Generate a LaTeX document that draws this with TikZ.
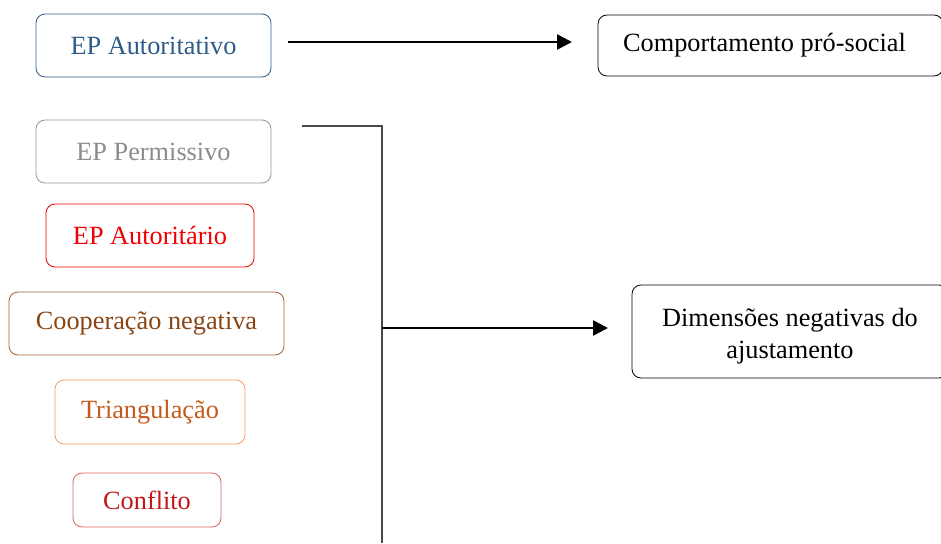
\documentclass[tikz,border=0pt]{standalone}
\usepackage{fontspec}
\setmainfont{Liberation Serif}
\usetikzlibrary{arrows.meta}
\definecolor{cBlue}{HTML}{2F5B88}
\definecolor{cGray}{HTML}{8C8C8C}
\definecolor{cRed}{HTML}{F00000}
\definecolor{cBrown}{HTML}{8A4513}
\definecolor{cBrownLine}{HTML}{A0603A}
\definecolor{cOrange}{HTML}{C4591A}
\definecolor{cOrangeLine}{HTML}{F4A060}
\definecolor{cDarkRed}{HTML}{C01818}
\definecolor{cDarkRedLine}{HTML}{DC6060}
\definecolor{cLink}{HTML}{4A4A4A}
\begin{document}
\begin{tikzpicture}[x=1pt,y=-1pt,
  box/.style={draw, rounded corners=9pt, line width=0.8pt, inner sep=0pt,
    align=center, font=\fontsize{26.3}{32}\selectfont},
  txt/.style={inner sep=0pt, align=center, font=\fontsize{26.3}{32}\selectfont},
  link/.style={draw=cLink, line width=1.3pt},
  flow/.style={draw=black, line width=2.6pt, -{Triangle[length=15pt,width=15pt]}}]
\useasboundingbox (0,0) rectangle (941,543);

% factor boxes on the left
\node[box, draw=cBlue, text=cBlue, minimum width=235pt, minimum height=63pt] (auth) at (153.5,45.5) {EP Autoritativo};
\node[box, draw=cGray!90, text=cGray, minimum width=235pt, minimum height=63pt] (perm) at (153.5,151.5) {EP Permissivo};
\node[box, draw=cRed, text=cRed, minimum width=208pt, minimum height=63pt] (autr) at (150,235.5) {EP Autoritário};
\node[box, draw=cBrownLine, text=cBrown, minimum width=275pt, minimum height=63pt] (coop) at (146.5,323.5) {Cooperação negativa};
\node[box, draw=cOrangeLine, text=cOrange, minimum width=190pt, minimum height=64pt] (tri) at (150,412) {Triangulação};
\node[box, draw=cDarkRedLine, text=cDarkRed, minimum width=148pt, minimum height=54pt] (conf) at (147,500) {Conflito};

% outcome boxes on the right
\node[box, draw=black, minimum width=345pt, minimum height=61pt] (pro) at (770.5,45.5) {Comportamento pró-social\hspace*{12pt}};
\node[box, draw=black, minimum width=316pt, minimum height=93pt] (neg) at (790,331.5) {};
\node[txt] (negtxt) at ([yshift=-5pt]neg.center) {Dimensões negativas do\\ajustamento};

% bracket grouping the negative factors
\coordinate (bt) at (302,126);
\coordinate (bc) at (382,126);
\coordinate (bb) at (382,543);
\coordinate (bm) at (382,328);
\draw[link] (bt) -- (bc) -- (bb);

% arrows
\coordinate (a0) at (288,42);
\draw[flow] (a0) -- (572,42);
\draw[flow] (bm) -- (608,328);
\end{tikzpicture}
\end{document}
